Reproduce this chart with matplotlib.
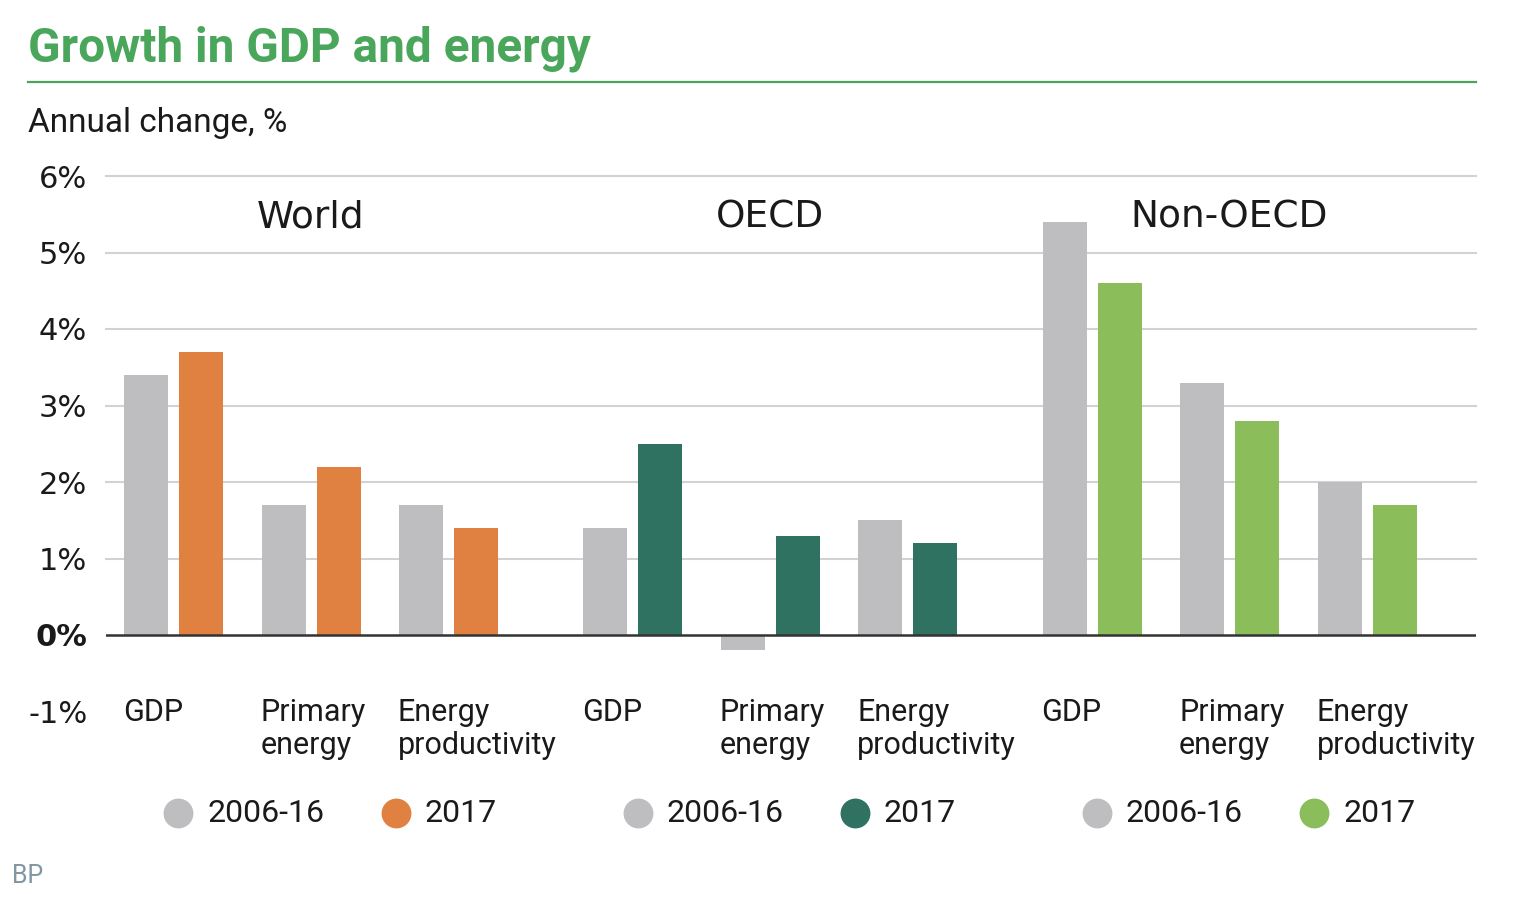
import matplotlib
matplotlib.use("Agg")
import matplotlib.pyplot as plt

# ---------------- data ----------------
groups = ["World", "OECD", "Non-OECD"]
categories = ["GDP", "Primary\nenergy", "Energy\nproductivity"]
period_labels = ["2006-16", "2017"]
avg_2006_16 = {
    "World": [3.4, 1.7, 1.7],
    "OECD": [1.4, -0.2, 1.5],
    "Non-OECD": [5.4, 3.3, 2.0],
}
val_2017 = {
    "World": [3.7, 2.2, 1.4],
    "OECD": [2.5, 1.3, 1.2],
    "Non-OECD": [4.6, 2.8, 1.7],
}
yticks = [-1, 0, 1, 2, 3, 4, 5, 6]
ytick_labels = ["-1%", "0%", "1%", "2%", "3%", "4%", "5%", "6%"]

# ---------------- style ----------------
GRAY = "#bebec0"
COLORS_2017 = {"World": "#e08041", "OECD": "#2f7261", "Non-OECD": "#8cbd5b"}
TITLE_GREEN = "#4aa65b"
COND = "Roboto"
HEAD = "DejaVu Sans"

W, H = 1516, 906
fig = plt.figure(figsize=(W / 100, H / 100), dpi=100)
fig.patch.set_facecolor("white")

def fx(px):
    return px / W

def fy(py):
    return 1 - py / H

# axes: x 106..1476 px, y -1 (711.5px) .. 6 (176px)
ax = fig.add_axes([fx(106), fy(711.5), fx(1476) - fx(106), fy(176) - fy(711.5)])
ax.set_facecolor("none")
PITCH = 137.5  # px per category unit
ax.set_xlim(-18 / PITCH, (1476 - 124) / PITCH)
ax.set_ylim(-1, 6)
PXY = (711.5 - 176) / 7.0  # px per 1%

def ydata(py):
    return (635 - py) / PXY

GROUP_PITCH = 3.34
BAR_W = 44 / PITCH
OFFSET = 55 / PITCH

for g, grp in enumerate(groups):
    base = g * GROUP_PITCH
    for c in range(len(categories)):
        x0 = base + c
        ax.bar(x0, avg_2006_16[grp][c], width=BAR_W, align="edge", color=GRAY, zorder=3)
        ax.bar(x0 + OFFSET, val_2017[grp][c], width=BAR_W, align="edge",
               color=COLORS_2017[grp], zorder=3)
        # category label
        ax.text(x0 - 1 / PITCH, ydata(698), categories[c], ha="left", va="top",
                fontsize=22, family=COND, color="#1a1a1a", linespacing=1.18,
                clip_on=False)
    # group label
    ax.text(base + 1.36, ydata(217), grp, ha="center", va="center",
            fontsize=27, family=HEAD, color="#1a1a1a")
    # legend
    ly = ydata(813)
    for k, (lab, col) in enumerate(zip(period_labels, [GRAY, COLORS_2017[grp]])):
        lx = base + (0.395 if k == 0 else 1.975)
        ax.plot([lx], [ly], "o", ms=21.5, color=col, mec="none", clip_on=False, zorder=4)
        ax.text(lx + 29 / PITCH, ly - 1 / PXY, lab, ha="left", va="center",
                fontsize=23, family=COND, color="#1a1a1a", clip_on=False)

# gridlines
for v in yticks:
    if v > 0:
        ax.axhline(v, color="#d2d2d2", lw=1.5, zorder=1, clip_on=False)
ax.axhline(0, color="#333333", lw=1.8, zorder=4)

ax.set_yticks(yticks)
ax.set_yticklabels(ytick_labels, fontsize=22, family=HEAD, color="#1a1a1a")
for lab in ax.get_yticklabels():
    if lab.get_text() == "0%":
        lab.set_fontweight("bold")
ax.tick_params(axis="y", length=0, pad=13.5)
ax.set_xticks([])
for s in ax.spines.values():
    s.set_visible(False)

# title, rule, subtitle, source
fig.text(fx(28), fy(62), "Growth in GDP and energy", ha="left", va="baseline",
         fontsize=34.4, fontweight="bold", family=COND, color=TITLE_GREEN)
fig.add_artist(plt.Line2D([fx(28), fx(1476)], [fy(82), fy(82)], color=TITLE_GREEN, lw=1.6))
fig.text(fx(28), fy(132), "Annual change, %", ha="left", va="baseline",
         fontsize=24, family=COND, color="#1a1a1a")
fig.text(fx(12), fy(883), "BP", ha="left", va="baseline",
         fontsize=18, family=COND, color="#8196a3")

fig.savefig("out.png", dpi=100, facecolor="white")
